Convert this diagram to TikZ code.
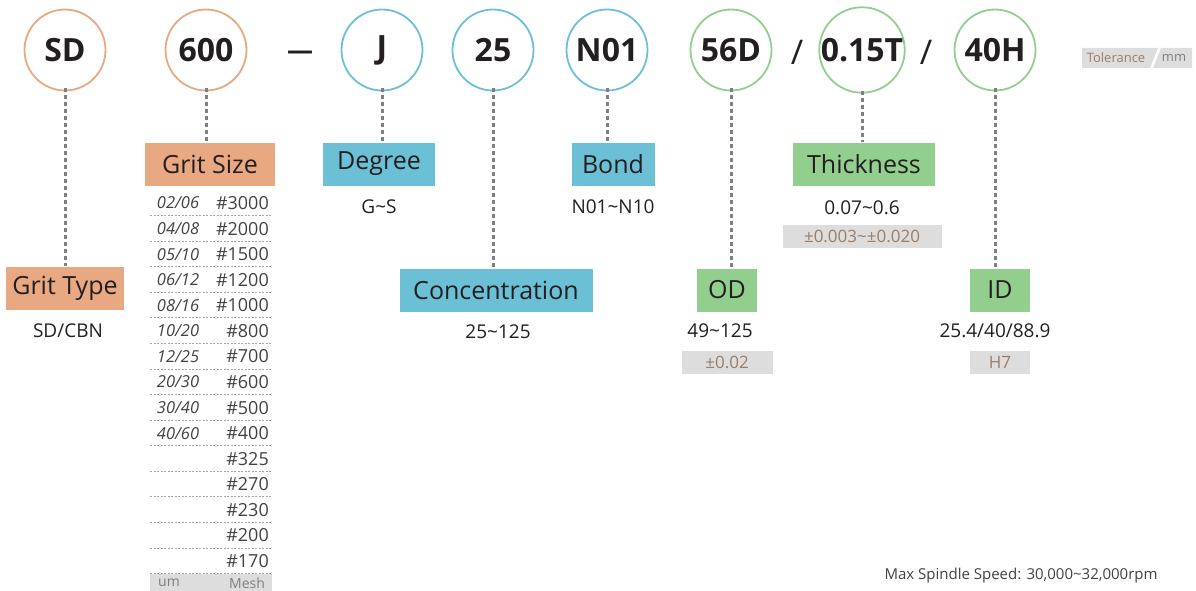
\documentclass[tikz,border=0pt]{standalone}
\usepackage{fontspec}
\setmainfont{Open Sans}
\definecolor{corange}{HTML}{E8A882}
\definecolor{cblue}{HTML}{6CC0D6}
\definecolor{cgreen}{HTML}{92CF8F}
\definecolor{dotgray}{HTML}{7F7F7F}
\definecolor{tolgray}{HTML}{DDDDDE}
\definecolor{toltext}{HTML}{9A7E66}
\definecolor{txt}{HTML}{231F20}
\newcommand{\fs}[1]{\fontsize{#1}{#1}\selectfont}
\tikzset{
  circ/.style={circle, draw=#1, line width=1.8pt, minimum size=81pt, inner sep=0pt, text=txt, font=\bfseries\fs{32}},
  labbox/.style={fill=#1, minimum height=43pt, inner sep=0pt, text=txt, font=\fs{25}},
  val/.style={text=txt, font=\fs{19}, inner sep=0pt},
  tolbox/.style={fill=tolgray, minimum height=23pt, inner sep=0pt, text=toltext, font=\fs{17}},
  dotline/.style={draw=dotgray, line width=3pt, dash pattern=on 4pt off 3pt},
  sepline/.style={draw=dotgray!70, line width=0.8pt, dash pattern=on 2pt off 1.5pt},
  um/.style={text=txt!85, font=\itshape\fs{16.5}, inner sep=0pt},
  mesh/.style={text=txt!85, font=\fs{18}, inner sep=0pt, anchor=east},
}
\begin{document}
\begin{tikzpicture}[x=1pt,y=-1pt]
\useasboundingbox (0,0) rectangle (1196,591);
% code circles
\node[circ=corange] (sd) at (65,50) {SD};
\node[circ=corange] (g600) at (206,50) {600};
\node[text=txt, font=\bfseries\fs{26}, inner sep=0pt] (dash) at (300,55) {—};
\node[circ=cblue] (j) at (382,50) {J};
\node[circ=cblue] (c25) at (493,50) {25};
\node[circ=cblue] (n01) at (607,50) {N01};
\node[circ=cgreen] (d56) at (731,50) {56D};
\node[text=txt, font=\fs{34}, inner sep=0pt] (sl1) at (797,52) {/};
\node[circ=cgreen] (t015) at (862,50) {0.15T};
\node[text=txt, font=\fs{34}, inner sep=0pt] (sl2) at (926,52) {/};
\node[circ=cgreen] (h40) at (995,50) {40H};
% tolerance badge
\fill[tolgray] (1082,48) -- (1158,48) -- (1150,68) -- (1082,68) -- cycle;
\fill[tolgray] (1161,48) -- (1192,48) -- (1192,68) -- (1153,68) -- cycle;
\node[text=toltext, font=\fs{13}, inner sep=0pt] (tol) at (1116,58) {Tolerance};
\node[text=dotgray, font=\fs{13}, inner sep=0pt] (mm) at (1174,58) {mm};
% label boxes
\node[labbox=corange, minimum width=118pt] (grittype) at (65,288) {Grit Type};
\node[val] (sdcbn) at (68,331) {SD/CBN};
\node[labbox=corange, minimum width=130pt] (gritsize) at (210,164) {Grit Size};
\node[labbox=cblue, minimum width=112pt] (degree) at (379,164) {Degree};
\node[val] (gs) at (379,207) {G\textasciitilde S};
\node[labbox=cblue, minimum width=193pt] (conc) at (496,290) {Concentration};
\node[val] (c125) at (498,332) {25\textasciitilde 125};
\node[labbox=cblue, minimum width=83pt] (bond) at (613,164) {Bond};
\node[val] (n010) at (613,207) {N01\textasciitilde N10};
\node[labbox=cgreen, minimum width=60pt] (od) at (727,290) {OD};
\node[val] (od125) at (720,331) {49\textasciitilde 125};
\node[tolbox, minimum width=91pt] (odtol) at (727,362) {±0.02};
\node[labbox=cgreen, minimum width=142pt] (thick) at (864,164) {Thickness};
\node[val] (th06) at (862,208) {0.07\textasciitilde 0.6};
\node[tolbox, minimum width=159pt] (thtol) at (862,236) {±0.003\textasciitilde ±0.020};
\node[labbox=cgreen, minimum width=60pt] (id) at (1000,290) {ID};
\node[val] (id889) at (995,331) {25.4/40/88.9};
\node[tolbox, minimum width=60pt] (idtol) at (1000,362) {H7};
% connectors
\draw[dotline] ([yshift=3pt]sd.south) -- (grittype.north);
\draw[dotline] ([yshift=3pt]g600.south) -- (g600.south |- gritsize.north);
\draw[dotline] ([yshift=3pt]j.south) -- (j.south |- degree.north);
\draw[dotline] ([yshift=3pt]c25.south) -- (c25.south |- conc.north);
\draw[dotline] ([yshift=3pt]n01.south) -- (n01.south |- bond.north);
\draw[dotline] ([yshift=3pt]d56.south) -- (d56.south |- od.north);
\draw[dotline] ([yshift=3pt]t015.south) -- (t015.south |- thick.north);
\draw[dotline] ([yshift=3pt]h40.south) -- (h40.south |- id.north);
% grit size table
\foreach \u/\m [count=\i from 0] in {{02/06}/\#3000, {04/08}/\#2000, {05/10}/\#1500, {06/12}/\#1200, {08/16}/\#1000, {10/20}/\#800, {12/25}/\#700, {20/30}/\#600, {30/40}/\#500, {40/60}/\#400, {}/\#325, {}/\#270, {}/\#230, {}/\#200, {}/\#170}{
  \node[um] (u\i) at (178,203+25.57*\i) {\u};
  \node[mesh] (m\i) at (269,203+25.57*\i) {\m};
  \draw[sepline] (150,215.5+25.57*\i) -- (272,215.5+25.57*\i);
}
\node[fill=tolgray, minimum width=122pt, minimum height=17pt, inner sep=0pt, anchor=north west] (foot) at (150,574) {};
\node[text=dotgray, font=\fs{14}, inner sep=0pt] (umlab) at (169,583) {um};
\node[text=dotgray, font=\fs{14}, inner sep=0pt] (meshlab) at (247,583) {Mesh};
% note
\node[text=txt!85, font=\fs{15}, inner sep=0pt] (speed) at (1021,576) {Max Spindle Speed: 30,000\textasciitilde 32,000rpm};
\end{tikzpicture}
\end{document}
